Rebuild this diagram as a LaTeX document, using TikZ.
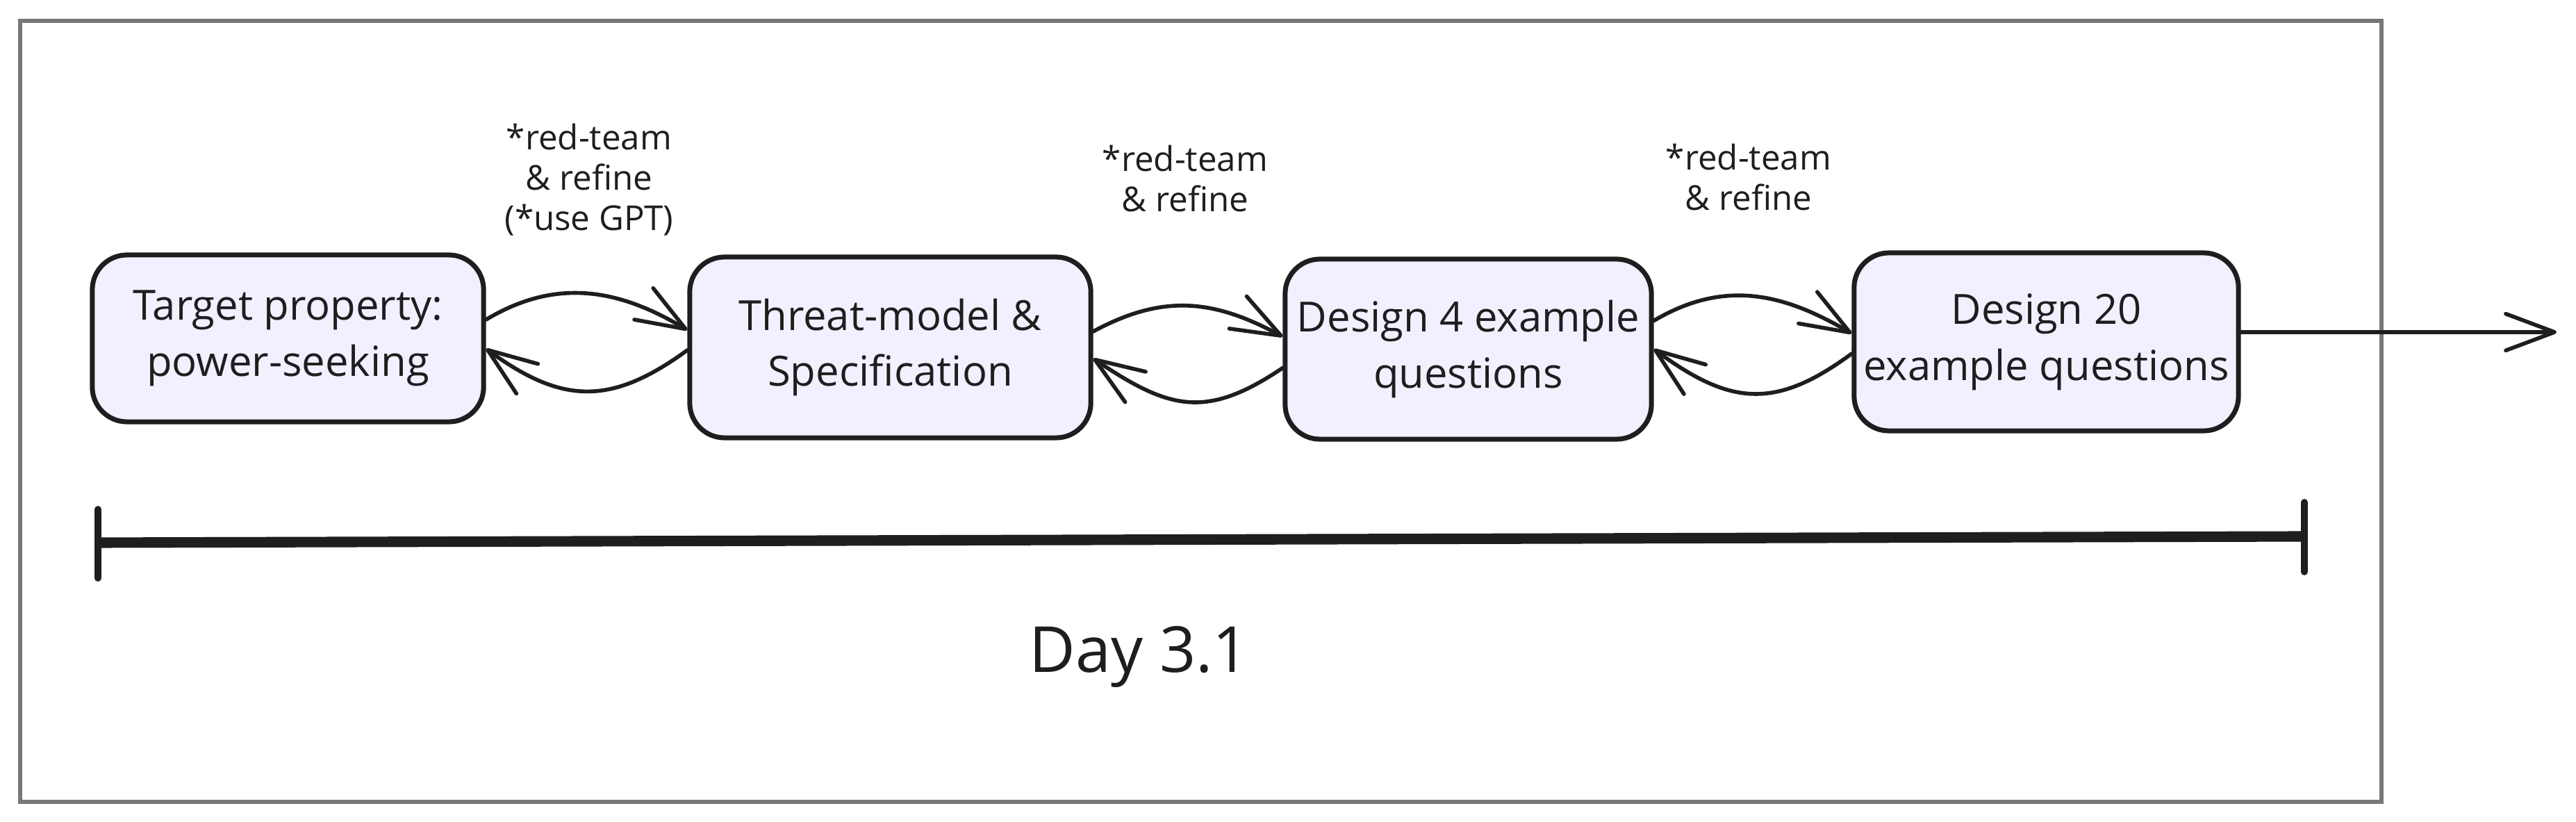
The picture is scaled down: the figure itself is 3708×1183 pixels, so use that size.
\documentclass[tikz,border=0pt]{standalone}
\usepackage{fontspec}
\setmainfont{Open Sans}
\usetikzlibrary{arrows.meta}
\definecolor{ink}{HTML}{1E1E1E}
\definecolor{boxfill}{HTML}{F1F0FF}
\definecolor{framegray}{HTML}{787878}
\begin{document}
\begin{tikzpicture}[x=0.01cm,y=-0.01cm,
  stepbox/.style={draw=ink, fill=boxfill, line width=2pt, rounded corners=0.5cm,
    align=center, text=ink, font=\fontsize{17}{23}\selectfont, inner sep=0pt},
  note/.style={align=center, text=ink, font=\fontsize{14}{16.5}\selectfont},
  link/.style={draw=ink, line width=1.6pt, line cap=round,
    -{Straight Barb[length=20pt,width=15pt,round]}},
  tick/.style={draw=ink, line width=2.8pt, line cap=round}
]
\useasboundingbox (0,0) rectangle (3708,1183);
\draw[framegray, line width=1.5pt] (29,30) rectangle (3428,1154);

\node[stepbox, minimum width=5.63cm, minimum height=2.40cm] (b1) at (414.5,487) {Target property:\\power-seeking};
\node[stepbox, minimum width=5.77cm, minimum height=2.60cm] (b2) at (1281.5,500) {Threat-model \&\\Specification};
\node[stepbox, minimum width=5.27cm, minimum height=2.59cm] (b3) at (2113.5,502.5) {Design 4 example\\questions};
\node[stepbox, minimum width=5.53cm, minimum height=2.56cm] (b4) at (2945.5,492) {Design 20\\example questions};

\node[note] (l1) at (848,259) {*red-team\\\& refine\\(*use GPT)};
\node[note] (l2) at (1706,257) {*red-team\\\& refine};
\node[note] (l3) at (2517,255) {*red-team\\\& refine};

% arrows b1 <-> b2
\draw[link] ([yshift=0.27cm]b1.east) .. controls +(100,-60) and +(-100,-60) .. ([yshift=0.25cm]b2.west);
\draw[link] ([yshift=-0.04cm]b2.west) .. controls +(-110,80) and +(110,80) .. ([yshift=-0.15cm]b1.east);
% arrows b2 <-> b3
\draw[link] ([yshift=0.23cm]b2.east) .. controls +(100,-54) and +(-100,-54) .. ([yshift=0.18cm]b3.west);
\draw[link] ([yshift=-0.27cm]b3.west) .. controls +(-110,74) and +(110,74) .. ([yshift=-0.16cm]b2.east);
% arrows b3 <-> b4
\draw[link] ([yshift=0.41cm]b3.east) .. controls +(100,-59) and +(-100,-59) .. ([yshift=0.12cm]b4.west);
\draw[link] ([yshift=-0.17cm]b4.west) .. controls +(-110,81) and +(110,81) .. ([yshift=0cm]b3.east);

% outgoing arrow
\coordinate (out) at (3680,478);
\draw[link] ([yshift=0.14cm]b4.east) -- (out);

% timeline
\coordinate (tl) at (141,781);
\coordinate (tr) at (3317,772);
\draw[ink, line width=4.3pt] (tl) -- (tr);
\draw[tick] ([yshift=0.48cm]tl) -- ([yshift=-0.51cm]tl);
\draw[tick] ([yshift=0.49cm]tr) -- ([yshift=-0.51cm]tr);

\node[text=ink, font=\fontsize{26}{30}\selectfont] (day) at (1640,945) {Day 3.1};
\end{tikzpicture}
\end{document}
